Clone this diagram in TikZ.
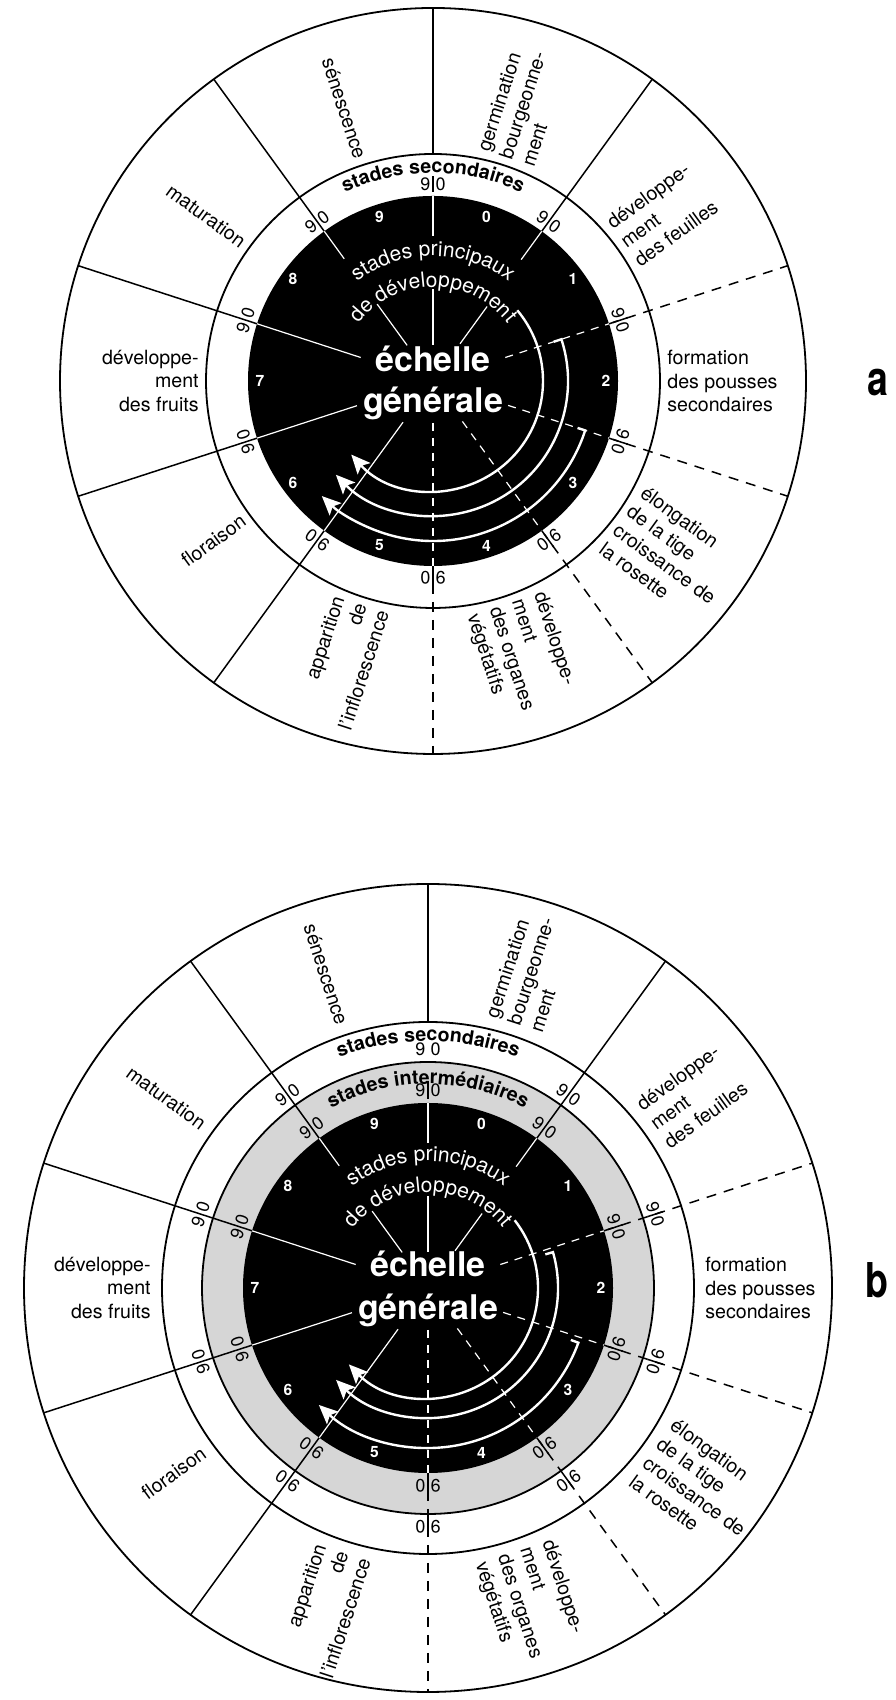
\documentclass[tikz,border=0pt]{standalone}
\usepackage{fontspec}
\setmainfont{TeX Gyre Heros}
\usepackage{graphicx}
\usetikzlibrary{arrows.meta,decorations.text}

\definecolor{trame}{gray}{0.84}

\newcommand\fmtblanc{\fontsize{10.5}{12}\selectfont\color{white}}
\newcommand\fmtgras{\fontsize{9.8}{11}\selectfont\bfseries}

\tikzset{
  anneau/.style={line width=0.9pt},
  sep/.style={line width=0.75pt},
  sepd/.style={sep,dash pattern=on 5pt off 4pt},
  blanche/.style={white,line width=0.6pt},
  blanched/.style={blanche,dash pattern=on 4pt off 3.5pt},
  etiq/.style={font=\fontsize{9.8}{11.7}\selectfont,inner sep=0pt},
  chiffre/.style={font=\fontsize{9}{10}\selectfont,inner sep=0pt},
  stade/.style={white,font=\fontsize{7.8}{9}\selectfont\bfseries,inner sep=0pt},
  titre/.style={white,font=\fontsize{17}{20}\selectfont\bfseries,inner sep=0pt},
  fleche/.style={white,line width=1.2pt,-{Stealth[length=9.5pt,width=8.5pt,inset=2pt]}},
  lettre/.style={font=\fontsize{24}{26}\selectfont\bfseries},
  courbe/.style={decorate,decoration={text along path,text align=center,text={#1}}},
}

\begin{document}
\begin{tikzpicture}[x=0.5pt,y=0.5pt]
  \useasboundingbox (0,0) rectangle (895,1700);
  \coordinate (A) at (433,1319);
  \coordinate (B) at (428,412);

  % ---- a : stades secondaires
  \begin{scope}[shift={(A)}]
    \draw[anneau] (0,0) circle[radius=373];
    \draw[anneau] (0,0) circle[radius=227];
    \fill (0,0) circle[radius=185];
    \draw[sep] (90:227) -- (90:373);
    \foreach \t in {54,126,162,198,234} \draw[sep] (\t:185) -- (\t:373);
    \foreach \t in {18,-18,-54,-90} \draw[sepd] (\t:185) -- (\t:373);
    \foreach \t in {90,18,-18,-54,-90} \draw[sep] (\t:189) -- (\t:205);
    \foreach \t/\i/\o in {90/145/185,90/36/92,54/150/185,54/46/92,126/151/185,126/44/95,162/76/185,198/80/185,234/51/185}
      \draw[blanche] (\t:\i) -- (\t:\o);
    \foreach \t/\i in {18/76,-18/79,-54/50,-90/42}
      \draw[blanched] (\t:\i) -- (\t:185);
    \foreach \n in {0,...,9} \node[stade] (a-s\n) at ({72-36*\n}:173) {\n};
    \foreach \t in {90,54,18,-18,-54,-90,-126,-162,162,126}
      \node[chiffre,rotate=\t-90] (a-c\t) at (\t:197) {9\kern2.6pt0};
    \path[courbe={|\fmtgras|stades secondaires}] (130:208) arc[start angle=130,end angle=50,radius=208];
    \path[courbe={|\fmtblanc|stades principaux}] (140:125) arc[start angle=140,end angle=40,radius=125];
    \path[courbe={|\fmtblanc|de développement}] (150:94) arc[start angle=150,end angle=30,radius=94];
    \node[titre,anchor=base] (a-ech) at (0,9) {échelle};
    \node[titre,anchor=base] (a-gen) at (0,-32) {générale};
    \draw[fleche] (40:110) arc[start angle=40,end angle=-138,radius=110];
    \draw[fleche] (18:127) -- (18:135) arc[start angle=18,end angle=-136,radius=135];
    \draw[fleche] (-18:152) -- (-18:160) arc[start angle=-18,end angle=-134,radius=160];
    \node[etiq,anchor=west,align=left,rotate=72] (a-germ) at (72:234) {germination\\bourgeonne-\\ment};
    \node[etiq,anchor=west,align=left,rotate=36] (a-feui) at (36:234) {développe-\\ment\\des feuilles};
    \node[etiq,anchor=west,align=left] (a-pous) at (0:234) {formation\\des pousses\\secondaires};
    \node[etiq,anchor=west,align=left,rotate=-36] (a-elon) at (-36:234) {élongation\\de la tige\\croissance de\\la rosette};
    \node[etiq,anchor=west,align=left,rotate=-72] (a-orga) at (-72:234) {développe-\\ment\\des organes\\végétatifs};
    \node[etiq,anchor=east,align=right,rotate=72] (a-infl) at (-108:234) {apparition\\de\\l'inflorescence};
    \node[etiq,anchor=east,align=right,rotate=36] (a-flor) at (-144:234) {floraison};
    \node[etiq,anchor=east,align=right] (a-frui) at (180:234) {développe-\\ment\\des fruits};
    \node[etiq,anchor=east,align=right,rotate=-36] (a-matu) at (144:234) {maturation};
    \node[etiq,anchor=east,align=right,rotate=-72] (a-sene) at (108:234) {sénescence};
  \end{scope}
  \node[lettre] (lettre-a) at (878,1317) {\scalebox{0.78}[1]{a}};

  % ---- b : stades intermediaires
  \begin{scope}[shift={(B)}]
    \draw[anneau] (0,0) circle[radius=404];
    \draw[anneau] (0,0) circle[radius=266];
    \draw[anneau,fill=trame] (0,0) circle[radius=226];
    \fill (0,0) circle[radius=185];
    \draw[sep] (90:266) -- (90:404);
    \foreach \t in {54,126,162,198,234} \draw[sep] (\t:185) -- (\t:404);
    \foreach \t in {18,-18,-54,-90} \draw[sepd] (\t:185) -- (\t:404);
    \draw[sep] (90:189) -- (90:207);
    \foreach \t in {18,-18,-54,-90} {
      \draw[sep] (\t:189) -- (\t:205);
      \draw[sep] (\t:231) -- (\t:247);
    }
    \foreach \t/\i/\o in {90/145/185,90/36/92,54/150/185,54/46/92,126/151/185,126/44/95,162/76/185,198/80/185,234/51/185}
      \draw[blanche] (\t:\i) -- (\t:\o);
    \foreach \t/\i in {18/76,-18/79,-54/50,-90/42}
      \draw[blanched] (\t:\i) -- (\t:185);
    \foreach \n in {0,...,9} \node[stade] (b-s\n) at ({72-36*\n}:173) {\n};
    \path[courbe={|\fmtgras|stades secondaires}] (125:247) arc[start angle=125,end angle=55,radius=247];
    \path[courbe={|\fmtgras|stades intermédiaires}] (135:204) arc[start angle=135,end angle=45,radius=204];
    \foreach \t in {90,54,18,-18,-54,-90,-126,-162,162,126} {
      \node[chiffre,rotate=\t-90] (b-i\t) at (\t:198) {9\kern2.6pt0};
      \node[chiffre,rotate=\t-90] (b-c\t) at (\t:239) {9\kern2.6pt0};
    }
    \path[courbe={|\fmtblanc|stades principaux}] (140:127) arc[start angle=140,end angle=40,radius=127];
    \path[courbe={|\fmtblanc|de développement}] (150:96) arc[start angle=150,end angle=30,radius=96];
    \node[titre,anchor=base] (b-ech) at (0,11) {échelle};
    \node[titre,anchor=base] (b-gen) at (0,-32) {générale};
    \draw[fleche] (38:110) arc[start angle=38,end angle=-136,radius=110];
    \draw[fleche] (16:122) -- (16:130) arc[start angle=16,end angle=-135,radius=130];
    \draw[fleche] (-20:152) -- (-20:160) arc[start angle=-20,end angle=-133,radius=160];
    \node[etiq,anchor=west,align=left,rotate=72] (b-germ) at (72:277) {germination\\bourgeonne-\\ment};
    \node[etiq,anchor=west,align=left,rotate=36] (b-feui) at (36:277) {développe-\\ment\\des feuilles};
    \node[etiq,anchor=west,align=left] (b-pous) at (0:277) {formation\\des pousses\\secondaires};
    \node[etiq,anchor=west,align=left,rotate=-36] (b-elon) at (-36:277) {élongation\\de la tige\\croissance de\\la rosette};
    \node[etiq,anchor=west,align=left,rotate=-72] (b-orga) at (-72:277) {développe-\\ment\\des organes\\végétatifs};
    \node[etiq,anchor=east,align=right,rotate=72] (b-infl) at (-108:277) {apparition\\de\\l'inflorescence};
    \node[etiq,anchor=east,align=right,rotate=36] (b-flor) at (-144:277) {floraison};
    \node[etiq,anchor=east,align=right] (b-frui) at (180:277) {développe-\\ment\\des fruits};
    \node[etiq,anchor=east,align=right,rotate=-36] (b-matu) at (144:277) {maturation};
    \node[etiq,anchor=east,align=right,rotate=-72] (b-sene) at (108:277) {sénescence};
  \end{scope}
  \node[lettre] (lettre-b) at (877,420) {\scalebox{0.78}[1]{b}};
\end{tikzpicture}
\end{document}
